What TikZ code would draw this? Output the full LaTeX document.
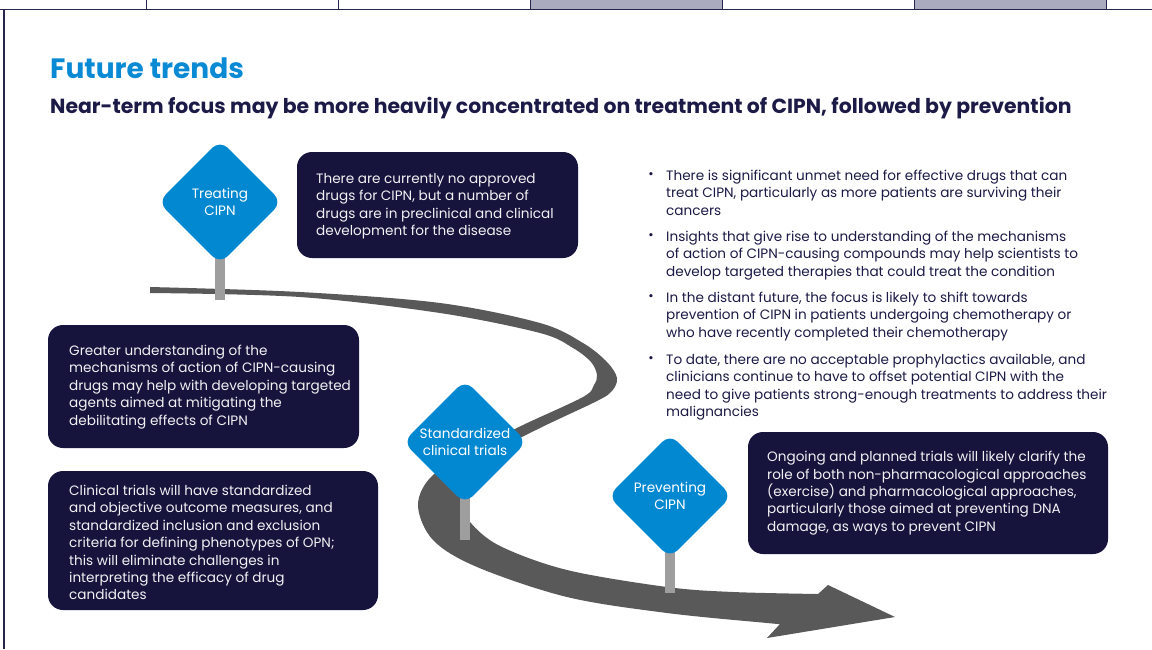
\documentclass[tikz,border=0pt]{standalone}
\usepackage{fontspec}
\setmainfont{Poppins}
\usetikzlibrary{shapes.geometric,backgrounds}

\definecolor{signblue}{HTML}{0288D1}
\definecolor{titleblue}{HTML}{0A8AD4}
\definecolor{navybox}{HTML}{16133C}
\definecolor{navytext}{HTML}{1C1A46}
\definecolor{roadgray}{HTML}{595959}
\definecolor{polegray}{HTML}{9E9E9E}
\definecolor{frameline}{HTML}{26264C}
\definecolor{stripshade}{HTML}{ABABC0}

\newcommand{\bodyfont}{\fontsize{13.6}{17.4}\selectfont}

\tikzset{
  sign/.style={diamond, fill=signblue, rounded corners=11pt, minimum width=124pt,
    minimum height=124pt, inner sep=0pt, text=white, align=center, font=\bodyfont},
  pole/.style={polegray, line width=10pt},
  infobox/.style={rectangle, fill=navybox, rounded corners=15pt, inner sep=0pt},
  boxtext/.style={anchor=north west, inner sep=0pt, align=left, text=white!94!navybox, font=\bodyfont},
  bullettext/.style={anchor=north west, inner sep=0pt, align=left, text=navytext, font=\bodyfont},
  bulletdot/.style={inner sep=0pt, text=navytext, font=\fontsize{13}{13}\selectfont}
}

\begin{document}
\begin{tikzpicture}[x=1pt, y=-1pt]
    \useasboundingbox (0,0) rectangle (1152,649);

    % Page frame
    \fill[stripshade] (530,0) rectangle (722,9);
    \fill[stripshade] (914,0) rectangle (1106,9);
    \foreach \x in {146,338,530,722,914,1106}
        \draw[frameline, line width=0.8pt] (\x,0) -- (\x,9);
    \draw[frameline, line width=1.2pt] (0,9.5) -- (1152,9.5);
    \draw[frameline, line width=1.2pt] (4,9.5) -- (4,649);

    % Headings
    \node[anchor=base west, inner sep=0pt, text=titleblue, font=\fontsize{28}{34}\selectfont\bfseries] (title) at (50,78) {Future trends};
    \node[anchor=base west, inner sep=0pt, text=navytext, font=\fontsize{20.4}{24}\selectfont\bfseries] (subtitle) at (50,113) {Near-term focus may be more heavily concentrated on treatment of CIPN, followed by prevention};

    % Signposts
    \node[sign] (treat) at (220,202) {Treating\\CIPN};
    \node[sign] (trials) at (465,442) {Standardized\\clinical trials};
    \node[sign] (prevent) at (670,496) {Preventing\\CIPN};
    \coordinate (treatfoot) at (220,300);
    \coordinate (trialsfoot) at (465,540);
    \coordinate (preventfoot) at (670,593);

    \begin{scope}[on background layer]
        % Road
        \fill[roadgray]
            plot[smooth, tension=0.55] coordinates {(150,287) (300,292) (440,303) (540,323) (583,343) (607,362) (617,378) (612,391) (597,401) (540,428) (495,452) (470,476) (462,502) (470,522) (500,546) (567,570) (667,587) (733,592) (818,594)}
            -- (828,585) -- (895,617) -- (767,638) --
            plot[smooth, tension=0.55] coordinates {(780,624) (767,623) (667,613) (567,597) (477,567) (433,540) (418,505) (433,475) (480,447) (523,425) (583,397) (594,385) (597,375) (591,362) (573,348) (540,333) (440,313) (300,297) (150,293)}
            -- cycle;
        % Poles
        \draw[pole] (treat.center) -- (treatfoot);
        \draw[pole] (trials.center) -- (trialsfoot);
        \draw[pole] (prevent.center) -- (preventfoot);
    \end{scope}

    % Dark boxes
    \node[infobox, minimum width=281pt, minimum height=106pt] (nodrugs) at (437.5,205) {};
    \node[boxtext] (nodrugstext) at (316,173) {There are currently no approved\\drugs for CIPN, but a number of\\drugs are in preclinical and clinical\\development for the disease};

    \node[infobox, minimum width=311pt, minimum height=123pt] (mechanisms) at (203.5,386.5) {};
    \node[boxtext] (mechanismstext) at (69,345) {Greater understanding of the\\mechanisms of action of CIPN-causing\\drugs may help with developing targeted\\agents aimed at mitigating the\\debilitating effects of CIPN};

    \node[infobox, minimum width=330pt, minimum height=139pt] (standard) at (213,540.5) {};
    \node[boxtext] (standardtext) at (69,485) {Clinical trials will have standardized\\and objective outcome measures, and\\standardized inclusion and exclusion\\criteria for defining phenotypes of OPN;\\this will eliminate challenges in\\interpreting the efficacy of drug\\candidates};

    \node[infobox, minimum width=360pt, minimum height=122pt] (ongoing) at (928,493) {};
    \node[boxtext] (ongoingtext) at (767,451) {Ongoing and planned trials will likely clarify the\\role of both non-pharmacological approaches\\(exercise) and pharmacological approaches,\\particularly those aimed at preventing DNA\\damage, as ways to prevent CIPN};

    % Bullet list
    \node[bulletdot] (dot1) at (651,176) {•};
    \node[bullettext] (unmet) at (666,170) {There is significant unmet need for effective drugs that can\\treat CIPN, particularly as more patients are surviving their\\cancers};
    \node[bulletdot] (dot2) at (651,237) {•};
    \node[bullettext] (insights) at (666,231) {Insights that give rise to understanding of the mechanisms\\of action of CIPN-causing compounds may help scientists to\\develop targeted therapies that could treat the condition};
    \node[bulletdot] (dot3) at (651,298) {•};
    \node[bullettext] (future) at (666,292) {In the distant future, the focus is likely to shift towards\\prevention of CIPN in patients undergoing chemotherapy or\\who have recently completed their chemotherapy};
    \node[bulletdot] (dot4) at (651,360) {•};
    \node[bullettext] (todate) at (666,354) {To date, there are no acceptable prophylactics available, and\\clinicians continue to have to offset potential CIPN with the\\need to give patients strong-enough treatments to address their\\malignancies};
\end{tikzpicture}
\end{document}
